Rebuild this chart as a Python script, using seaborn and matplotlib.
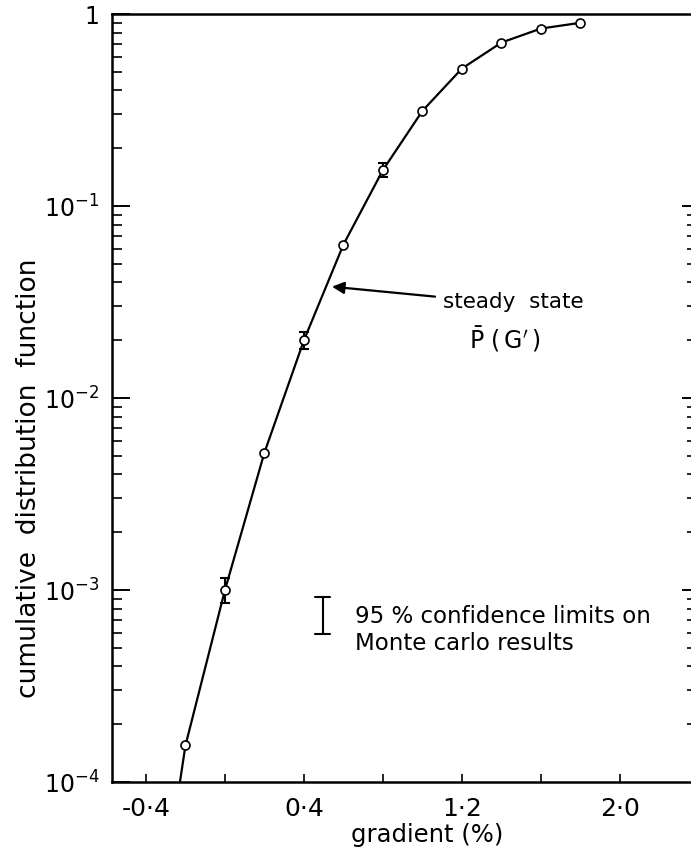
import numpy as np
import pandas as pd
import matplotlib
matplotlib.use("Agg")
import matplotlib.pyplot as plt
from matplotlib.lines import Line2D
from matplotlib.ticker import LogLocator, FixedLocator, NullFormatter, FixedFormatter
import seaborn as sns

# ---- data ----
grad_pts = [-0.2, 0.0, 0.2, 0.4, 0.6, 0.8, 1.0, 1.2, 1.4, 1.6, 1.8]
cdf_pts = [1.55e-4, 1.0e-3, 5.2e-3, 2.0e-2, 6.3e-2, 0.154, 0.313, 0.52, 0.71, 0.84, 0.90]

curve_x = [-0.228, -0.2, 0.0, 0.2, 0.4, 0.6, 0.8, 1.0, 1.2, 1.4, 1.6, 1.8]
curve_y = [1.0e-4, 1.55e-4, 1.0e-3, 5.2e-3, 2.0e-2, 6.3e-2, 0.154, 0.313, 0.52, 0.71, 0.84, 0.90]

err_x = [0.0, 0.4, 0.8]
err_c = [1.0e-3, 2.0e-2, 0.154]
err_lo = [0.86e-3, 0.018, 0.141]
err_hi = [1.16e-3, 0.022, 0.168]

xtick_pos = [-0.4, 0.0, 0.4, 0.8, 1.2, 1.6, 2.0]
xtick_lab = ["-0·4", "", "0·4", "", "1·2", "", "2·0"]
ytick_pos = [1e-4, 1e-3, 1e-2, 1e-1, 1.0]
ytick_lab = ["10$^{-4}$", "10$^{-3}$", "10$^{-2}$", "10$^{-1}$", "1"]
right_major = [1e-3, 1e-2, 1e-1]
right_minor = [k * d for d in (1e-4, 1e-3, 1e-2) for k in range(2, 10)]

sns.set_theme(style="white")
plt.rcParams["font.family"] = ["DejaVu Sans"]
plt.rcParams["mathtext.fontset"] = "dejavusans"
for key in ["text.color", "axes.labelcolor", "xtick.color", "ytick.color"]:
    plt.rcParams[key] = "black"

fig = plt.figure(figsize=(6.91, 8.49), dpi=100)
ax = fig.add_axes([112 / 691, 67 / 849, 581 / 691, 768 / 849])

curve = pd.DataFrame({"x": curve_x, "y": curve_y})
pts = pd.DataFrame({"x": grad_pts, "y": cdf_pts})

sns.lineplot(data=curve, x="x", y="y", ax=ax, color="black", lw=1.6, sort=False)

yerr = [np.array(err_c) - np.array(err_lo), np.array(err_hi) - np.array(err_c)]
ax.errorbar(err_x, err_c, yerr=yerr, fmt="none", ecolor="black", elinewidth=1.5,
            capsize=3.5, capthick=1.5, zorder=3)

sns.scatterplot(data=pts, x="x", y="y", ax=ax, marker="o", s=42,
                facecolor="white", edgecolor="black", linewidth=1.2, zorder=4)

ax.set_yscale("log")
ax.set_ylim(1e-4, 1.0)
ax.set_xlim(-0.572, 2.37)

# ticks
ax.yaxis.set_major_locator(FixedLocator(ytick_pos))
ax.yaxis.set_major_formatter(FixedFormatter(ytick_lab))
ax.yaxis.set_minor_locator(LogLocator(base=10, subs=np.arange(2, 10)))
ax.yaxis.set_minor_formatter(NullFormatter())
ax.xaxis.set_major_locator(FixedLocator(xtick_pos))
ax.xaxis.set_major_formatter(FixedFormatter(xtick_lab))

ax.tick_params(axis="y", which="major", direction="in", length=13, width=1.4,
               labelsize=17, pad=9, left=True, right=False)
ax.tick_params(axis="y", which="minor", direction="in", length=7, width=1.2,
               left=True, right=False)
ax.tick_params(axis="x", which="major", direction="in", length=6, width=1.2,
               labelsize=18, pad=11, bottom=True)

for s in ["left", "bottom", "top"]:
    ax.spines[s].set_linewidth(1.8)
    ax.spines[s].set_color("black")
ax.spines["right"].set_visible(False)

# faint ticks of the right-hand axis (spine lies beyond the crop)
axr = ax.twinx()
axr.set_yscale("log")
axr.set_ylim(1e-4, 1.0)
axr.yaxis.set_major_locator(FixedLocator(right_major))
axr.yaxis.set_minor_locator(FixedLocator(right_minor))
axr.yaxis.set_major_formatter(NullFormatter())
axr.yaxis.set_minor_formatter(NullFormatter())
axr.tick_params(axis="y", which="major", direction="in", length=8, width=1.4, right=True)
axr.tick_params(axis="y", which="minor", direction="in", length=4, width=1.2, right=True)
for s in axr.spines.values():
    s.set_visible(False)
axr.grid(False)

ax.set_xlabel("gradient (%)", fontsize=17.5)
ax.set_ylabel("cumulative  distribution  function", fontsize=19)
ax.xaxis.set_label_coords(0.542, -0.054)
ax.yaxis.set_label_coords(-0.121, 0.395)

# annotation arrow
ax.annotate("", xy=(0.542, 0.038), xycoords="data",
            xytext=(0.556, 0.632), textcoords="axes fraction",
            arrowprops=dict(arrowstyle="-|>", color="black", lw=1.6, mutation_scale=18,
                            shrinkA=0, shrinkB=0))
ax.text(0.570, 0.625, "steady  state", transform=ax.transAxes, fontsize=15.5,
        ha="left", va="center")
ax.text(0.676, 0.577, r"$\bar{\mathrm{P}}\ (\,\mathrm{G}'\,)$", transform=ax.transAxes,
        fontsize=17, ha="center", va="center")

# legend symbol for confidence limits
lx, ly0, ly1, cw = 0.363, 0.193, 0.241, 0.013
for (xa, xb, ya, yb) in [(lx, lx, ly0, ly1), (lx - cw, lx + cw, ly0, ly0), (lx - cw, lx + cw, ly1, ly1)]:
    ax.add_line(Line2D([xa, xb], [ya, yb], transform=ax.transAxes, color="black", lw=1.5))
ax.text(0.418, 0.215, "95 % confidence limits on", transform=ax.transAxes,
        fontsize=16.5, ha="left", va="center")
ax.text(0.418, 0.180, "Monte carlo results", transform=ax.transAxes,
        fontsize=16.5, ha="left", va="center")

fig.savefig("out.png", dpi=100)
